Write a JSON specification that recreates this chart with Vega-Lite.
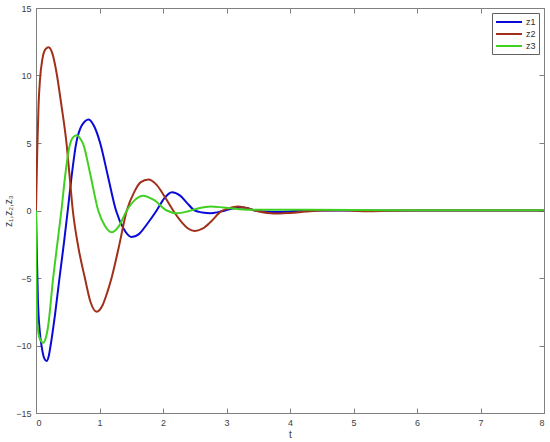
{
  "$schema": "https://vega.github.io/schema/vega-lite/v6.json",
  "width": 508,
  "height": 405,
  "autosize": {"type": "none"},
  "padding": {"left": 36, "top": 8, "right": 6, "bottom": 29},
  "background": "white",
  "config": {
    "view": {"stroke": "#808080", "strokeWidth": 1},
    "font": "Liberation Sans",
    "axis": {
      "domainColor": "#808080",
      "tickColor": "#808080",
      "labelColor": "#404040",
      "titleColor": "#404040",
      "labelFontSize": 9,
      "titleFontSize": 10,
      "titleFontWeight": "normal",
      "grid": false,
      "tickSize": -5
    }
  },
  "data": {
    "values": [
      {"t": 0, "v": 0, "s": "z1"},
      {"t": 0.01, "v": -2.5, "s": "z1"},
      {"t": 0.03, "v": -6.6, "s": "z1"},
      {"t": 0.06, "v": -9.0, "s": "z1"},
      {"t": 0.09, "v": -10.1, "s": "z1"},
      {"t": 0.13, "v": -10.95, "s": "z1"},
      {"t": 0.168, "v": -11.15, "s": "z1"},
      {"t": 0.2, "v": -10.8, "s": "z1"},
      {"t": 0.23, "v": -10.0, "s": "z1"},
      {"t": 0.3, "v": -7.7, "s": "z1"},
      {"t": 0.37, "v": -5.0, "s": "z1"},
      {"t": 0.44, "v": -2.4, "s": "z1"},
      {"t": 0.5, "v": 0, "s": "z1"},
      {"t": 0.56, "v": 2.5, "s": "z1"},
      {"t": 0.63, "v": 4.9, "s": "z1"},
      {"t": 0.72, "v": 6.3, "s": "z1"},
      {"t": 0.83, "v": 6.75, "s": "z1"},
      {"t": 0.92, "v": 6.2, "s": "z1"},
      {"t": 1.01, "v": 5.0, "s": "z1"},
      {"t": 1.13, "v": 2.6, "s": "z1"},
      {"t": 1.26, "v": 0, "s": "z1"},
      {"t": 1.38, "v": -1.35, "s": "z1"},
      {"t": 1.51, "v": -1.97, "s": "z1"},
      {"t": 1.62, "v": -1.75, "s": "z1"},
      {"t": 1.75, "v": -1.0, "s": "z1"},
      {"t": 1.9, "v": 0, "s": "z1"},
      {"t": 2.02, "v": 0.9, "s": "z1"},
      {"t": 2.14, "v": 1.35, "s": "z1"},
      {"t": 2.27, "v": 1.1, "s": "z1"},
      {"t": 2.38, "v": 0.55, "s": "z1"},
      {"t": 2.5, "v": 0, "s": "z1"},
      {"t": 2.62, "v": -0.15, "s": "z1"},
      {"t": 2.75, "v": -0.2, "s": "z1"},
      {"t": 2.87, "v": -0.12, "s": "z1"},
      {"t": 2.98, "v": 0, "s": "z1"},
      {"t": 3.1, "v": 0.15, "s": "z1"},
      {"t": 3.25, "v": 0.22, "s": "z1"},
      {"t": 3.35, "v": 0.15, "s": "z1"},
      {"t": 3.45, "v": 0, "s": "z1"},
      {"t": 3.6, "v": -0.08, "s": "z1"},
      {"t": 3.84, "v": -0.12, "s": "z1"},
      {"t": 4.0, "v": -0.08, "s": "z1"},
      {"t": 4.2, "v": 0, "s": "z1"},
      {"t": 5.0, "v": 0, "s": "z1"},
      {"t": 8.0, "v": 0, "s": "z1"},

      {"t": 0, "v": 0, "s": "z2"},
      {"t": 0.02, "v": 4.5, "s": "z2"},
      {"t": 0.04, "v": 7.8, "s": "z2"},
      {"t": 0.063, "v": 9.7, "s": "z2"},
      {"t": 0.1, "v": 11.2, "s": "z2"},
      {"t": 0.15, "v": 11.95, "s": "z2"},
      {"t": 0.2, "v": 12.1, "s": "z2"},
      {"t": 0.26, "v": 11.6, "s": "z2"},
      {"t": 0.32, "v": 10.3, "s": "z2"},
      {"t": 0.4, "v": 7.8, "s": "z2"},
      {"t": 0.48, "v": 5.0, "s": "z2"},
      {"t": 0.53, "v": 2.5, "s": "z2"},
      {"t": 0.58, "v": 0, "s": "z2"},
      {"t": 0.67, "v": -2.8, "s": "z2"},
      {"t": 0.77, "v": -5.0, "s": "z2"},
      {"t": 0.86, "v": -6.8, "s": "z2"},
      {"t": 0.955, "v": -7.5, "s": "z2"},
      {"t": 1.05, "v": -7.0, "s": "z2"},
      {"t": 1.12, "v": -6.1, "s": "z2"},
      {"t": 1.19, "v": -5.0, "s": "z2"},
      {"t": 1.3, "v": -2.8, "s": "z2"},
      {"t": 1.43, "v": 0, "s": "z2"},
      {"t": 1.55, "v": 1.4, "s": "z2"},
      {"t": 1.65, "v": 2.1, "s": "z2"},
      {"t": 1.77, "v": 2.3, "s": "z2"},
      {"t": 1.9, "v": 1.9, "s": "z2"},
      {"t": 2.03, "v": 1.0, "s": "z2"},
      {"t": 2.16, "v": 0, "s": "z2"},
      {"t": 2.3, "v": -0.9, "s": "z2"},
      {"t": 2.4, "v": -1.35, "s": "z2"},
      {"t": 2.5, "v": -1.52, "s": "z2"},
      {"t": 2.62, "v": -1.35, "s": "z2"},
      {"t": 2.75, "v": -0.85, "s": "z2"},
      {"t": 2.92, "v": -0.05, "s": "z2"},
      {"t": 3.03, "v": 0.15, "s": "z2"},
      {"t": 3.18, "v": 0.3, "s": "z2"},
      {"t": 3.3, "v": 0.2, "s": "z2"},
      {"t": 3.45, "v": 0, "s": "z2"},
      {"t": 3.65, "v": -0.18, "s": "z2"},
      {"t": 3.84, "v": -0.22, "s": "z2"},
      {"t": 4.0, "v": -0.18, "s": "z2"},
      {"t": 4.25, "v": -0.08, "s": "z2"},
      {"t": 4.5, "v": 0, "s": "z2"},
      {"t": 4.8, "v": 0.02, "s": "z2"},
      {"t": 5.2, "v": -0.05, "s": "z2"},
      {"t": 5.6, "v": -0.02, "s": "z2"},
      {"t": 6.0, "v": 0, "s": "z2"},
      {"t": 8.0, "v": 0, "s": "z2"},

      {"t": 0, "v": 0, "s": "z3"},
      {"t": 0.005, "v": -4.0, "s": "z3"},
      {"t": 0.02, "v": -8.3, "s": "z3"},
      {"t": 0.06, "v": -9.5, "s": "z3"},
      {"t": 0.115, "v": -9.8, "s": "z3"},
      {"t": 0.15, "v": -9.5, "s": "z3"},
      {"t": 0.19, "v": -8.6, "s": "z3"},
      {"t": 0.27, "v": -5.0, "s": "z3"},
      {"t": 0.34, "v": -2.3, "s": "z3"},
      {"t": 0.4, "v": 0, "s": "z3"},
      {"t": 0.46, "v": 2.6, "s": "z3"},
      {"t": 0.52, "v": 4.6, "s": "z3"},
      {"t": 0.58, "v": 5.4, "s": "z3"},
      {"t": 0.64, "v": 5.57, "s": "z3"},
      {"t": 0.7, "v": 5.3, "s": "z3"},
      {"t": 0.745, "v": 4.9, "s": "z3"},
      {"t": 0.85, "v": 2.8, "s": "z3"},
      {"t": 0.98, "v": 0, "s": "z3"},
      {"t": 1.08, "v": -1.1, "s": "z3"},
      {"t": 1.19, "v": -1.62, "s": "z3"},
      {"t": 1.3, "v": -1.2, "s": "z3"},
      {"t": 1.43, "v": 0, "s": "z3"},
      {"t": 1.55, "v": 0.75, "s": "z3"},
      {"t": 1.69, "v": 1.1, "s": "z3"},
      {"t": 1.85, "v": 0.8, "s": "z3"},
      {"t": 2.06, "v": 0, "s": "z3"},
      {"t": 2.22, "v": -0.2, "s": "z3"},
      {"t": 2.4, "v": -0.05, "s": "z3"},
      {"t": 2.55, "v": 0.15, "s": "z3"},
      {"t": 2.75, "v": 0.3, "s": "z3"},
      {"t": 2.95, "v": 0.22, "s": "z3"},
      {"t": 3.2, "v": 0.1, "s": "z3"},
      {"t": 3.5, "v": 0.05, "s": "z3"},
      {"t": 4.0, "v": 0.05, "s": "z3"},
      {"t": 5.0, "v": 0.03, "s": "z3"},
      {"t": 6.0, "v": 0.02, "s": "z3"},
      {"t": 8.0, "v": 0.01, "s": "z3"}
    ]
  },
  "layer": [
    {
      "mark": {"type": "line", "strokeWidth": 2, "interpolate": "monotone", "clip": true},
      "encoding": {
        "x": {
          "field": "t", "type": "quantitative",
          "scale": {"domain": [0, 8], "nice": false, "zero": false},
          "axis": {"values": [0, 1, 2, 3, 4, 5, 6, 7, 8], "title": "t", "labelPadding": 10, "titlePadding": 2}
        },
        "y": {
          "field": "v", "type": "quantitative",
          "scale": {"domain": [-15, 15], "nice": false},
          "axis": {"values": [-15, -10, -5, 0, 5, 10, 15], "title": "z₁,z₂,z₃", "labelPadding": 10, "titlePadding": 2}
        },
        "color": {
          "field": "s", "type": "nominal",
          "scale": {"domain": ["z1", "z2", "z3"], "range": ["#0a0ad8", "#a0301a", "#40d020"]},
          "legend": {
            "title": null,
            "orient": "top-right",
            "offset": 5,
            "symbolType": "M-1,0H4.2",
            "symbolSize": 100,
            "symbolStrokeWidth": 2,
            "symbolFillColor": "transparent",
            "labelOffset": 19,
            "labelFontSize": 9,
            "labelColor": "#303030",
            "rowPadding": 1,
            "padding": 3,
            "strokeColor": "#606060",
            "fillColor": "white"
          }
        }
      }
    },
    {
      "mark": {"type": "point", "opacity": 0},
      "encoding": {
        "x": {"field": "t", "type": "quantitative", "axis": {"orient": "top", "values": [0, 1, 2, 3, 4, 5, 6, 7, 8], "labels": false, "title": null, "domain": false}},
        "y": {"field": "v", "type": "quantitative", "axis": {"orient": "right", "values": [-15, -10, -5, 0, 5, 10, 15], "labels": false, "title": null, "domain": false}}
      }
    }
  ],
  "resolve": {"axis": {"x": "independent", "y": "independent"}}
}
